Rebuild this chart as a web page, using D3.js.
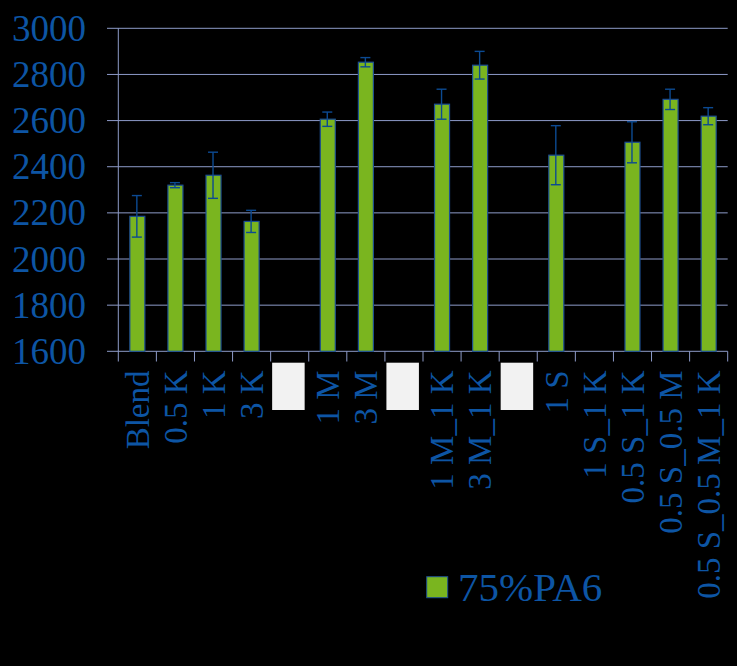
<!DOCTYPE html>
<html>
<head>
<meta charset="utf-8">
<script src="https://cdn.jsdelivr.net/npm/d3@7"></script>
<style>
  html, body { margin: 0; padding: 0; background: #000; }
  svg { display: block; }
</style>
</head>
<body>
<svg id="chart" width="737" height="666"></svg>
<script>
const categories = ["Blend", "0.5 K", "1 K", "3 K", "", "1 M", "3 M", "", "1 M_1 K", "3 M_1 K", "", "1 S", "1 S_1 K", "0.5 S_1 K", "0.5 S_0.5 M", "0.5 S_0.5 M_1 K"];
const blankSlots = [false, false, false, false, true, false, false, true, false, false, true, false, false, false, false, false];
const values = [2185, 2320, 2363, 2163, null, 2606, 2853, null, 2671, 2840, null, 2450, null, 2506, 2692, 2619];
const errors = [90, 11, 100, 48, null, 31, 20, null, 65, 60, null, 128, null, 89, 44, 37];
const yTicks = [1600, 1800, 2000, 2200, 2400, 2600, 2800, 3000];
const seriesName = "75%PA6";

const textColor = "#0d55a4";
const gridColor = "#8e9bc9";
const barFill = "#7ab51f";
const barStroke = "#1d4f92";
const errColor = "#0c4a92";

const svg = d3.select("#chart");
svg.append("rect").attr("width", 737).attr("height", 666).attr("fill", "#000");

const x = d3.scaleBand().domain(d3.range(categories.length)).range([118.3, 727.7]).paddingInner(0).paddingOuter(0);
const y = d3.scaleLinear().domain([1600, 3000]).range([351.3, 28.3]);

// gridlines + y ticks
svg.append("g").selectAll("line").data(yTicks).join("line")
  .attr("x1", 107).attr("x2", 727.7)
  .attr("y1", d => y(d)).attr("y2", d => y(d))
  .attr("stroke", gridColor).attr("stroke-width", 1);

// y axis line
svg.append("line").attr("x1", 118.3).attr("x2", 118.3).attr("y1", y(3000)).attr("y2", 361.5)
  .attr("stroke", gridColor).attr("stroke-width", 1);

// x ticks
const tickXs = d3.range(categories.length + 1).map(i => i < categories.length ? x(i) : x.range()[1]);
svg.append("g").selectAll("line").data(tickXs.slice(1)).join("line")
  .attr("x1", d => d).attr("x2", d => d).attr("y1", y(1600)).attr("y2", 361.5)
  .attr("stroke", gridColor).attr("stroke-width", 1);

// y labels
svg.append("g").selectAll("text").data(yTicks).join("text")
  .attr("x", 86).attr("y", d => y(d)).attr("dy", "0.34em")
  .attr("text-anchor", "end")
  .attr("font-family", "'Liberation Serif', 'Times New Roman', serif")
  .attr("font-size", 37).attr("fill", textColor)
  .text(d => d);

// bars
const bw = 15;
const idx = d3.range(categories.length).filter(i => values[i] != null);
svg.append("g").selectAll("rect").data(idx).join("rect")
  .attr("x", i => x(i) + (x.bandwidth() - bw) / 2)
  .attr("y", i => y(values[i]))
  .attr("width", bw)
  .attr("height", i => y(1600) - y(values[i]))
  .attr("fill", barFill).attr("stroke", barStroke).attr("stroke-width", 1.2);

// error bars
const eg = svg.append("g").attr("stroke", errColor).attr("stroke-width", 1.4);
idx.forEach(i => {
  const cx = x(i) + x.bandwidth() / 2 - 0.5;
  const hi = y(values[i] + errors[i]), lo = y(values[i] - errors[i]);
  eg.append("line").attr("x1", cx).attr("x2", cx).attr("y1", hi).attr("y2", lo);
  eg.append("line").attr("x1", cx - 5).attr("x2", cx + 5).attr("y1", hi).attr("y2", hi);
  eg.append("line").attr("x1", cx - 5).attr("x2", cx + 5).attr("y1", lo).attr("y2", lo);
});

// blank slot boxes
svg.append("g").selectAll("rect").data(d3.range(categories.length).filter(i => blankSlots[i])).join("rect")
  .attr("x", i => x(i) + 1.5).attr("y", 362.7).attr("width", 32.5).attr("height", 47.3)
  .attr("fill", "#f2f2f2");

// x labels
svg.append("g").selectAll("text").data(d3.range(categories.length).filter(i => !blankSlots[i])).join("text")
  .attr("transform", i => `translate(${x(i) + x.bandwidth() / 2},370.5) rotate(-90)`)
  .attr("dy", "0.34em")
  .attr("text-anchor", "end")
  .attr("font-family", "'Liberation Serif', 'Times New Roman', serif")
  .attr("font-size", 33).attr("fill", textColor)
  .text(i => categories[i]);

// legend
svg.append("rect").attr("x", 426.7).attr("y", 576.7).attr("width", 21).attr("height", 21)
  .attr("fill", barFill).attr("stroke", barStroke).attr("stroke-width", 1);
svg.append("text").attr("x", 458).attr("y", 600.7)
  .attr("font-family", "'Liberation Serif', 'Times New Roman', serif")
  .attr("font-size", 41).attr("fill", textColor)
  .text(seriesName);
</script>
</body>
</html>
